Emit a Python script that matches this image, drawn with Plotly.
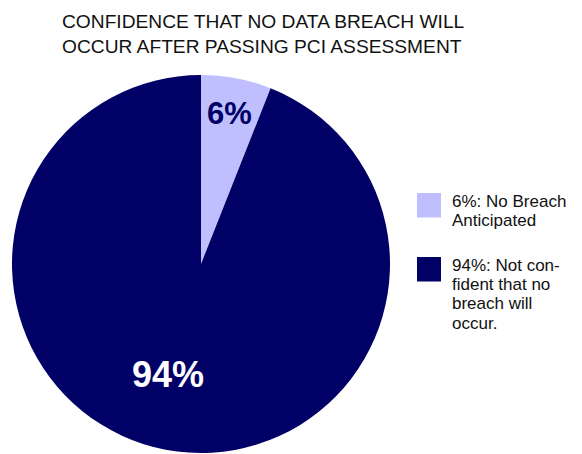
import math
import plotly.graph_objects as go

# ---- data ----
labels = ["6%: No Breach Anticipated", "94%: Not confident that no breach will occur."]
values = [6, 94]
slice_text = ["6%", "94%"]
legend_lines = [["6%: No Breach", "Anticipated"],
                ["94%: Not con-", "fident that no", "breach will", "occur."]]
title_lines = ["CONFIDENCE THAT NO DATA BREACH WILL",
               "OCCUR AFTER PASSING PCI ASSESSMENT"]
colors = ["#BFBFFF", "#000066"]
text_colors = ["#000066", "#FFFFFF"]

# ---- geometry helpers (pixel -> paper) ----
W, H = 582, 454
ML, MR, MT, MB = 12, 0, 75, 1
PW, PH = W - ML - MR, H - MT - MB


def px(x):
    return (x - ML) / PW


def py(y):
    return (H - MB - y) / PH


R = PH / 2.0
CX, CY = ML + R, MT + R

fig = go.Figure(go.Pie(
    labels=labels, values=values, sort=False, direction="clockwise", rotation=0,
    marker=dict(colors=colors, line=dict(width=0)),
    textinfo="none", hoverinfo="label+percent", showlegend=False,
    domain=dict(x=[0, 2 * R / PW], y=[0, 1]),
))

annotations = []
shapes = []

# slice labels
total = sum(values)
cum = 0
fracs = [0.81, 0.61]
angle_shift = [0, 6]
sizes = [31, 36]
for v, t, tc, f, s, da in zip(values, slice_text, text_colors, fracs, sizes, angle_shift):
    theta = math.radians(360.0 * (cum + v / 2.0) / total + da)
    cum += v
    x = CX + R * f * math.sin(theta)
    y = CY - R * f * math.cos(theta)
    annotations.append(dict(x=px(x), y=py(y), xref="paper", yref="paper",
                            text="<b>%s</b>" % t, showarrow=False,
                            xanchor="center", yanchor="middle",
                            font=dict(size=s, color=tc, family="Liberation Sans, Arial")))

# title (single text, two lines)
annotations.append(dict(x=px(60), y=py(9), xref="paper", yref="paper",
                        text="<br>".join(title_lines), showarrow=False,
                        xanchor="left", yanchor="top", align="left",
                        font=dict(size=19.2, color="#111111",
                                  family="Liberation Sans, Arial")))

# legend: line spacing set by base font, glyph size by span
top = 193.0
LINE = 19.2
GLYPH = 17
for lines, c in zip(legend_lines, colors):
    shapes.append(dict(type="rect", xref="paper", yref="paper",
                       x0=px(417), x1=px(441), y0=py(top), y1=py(top + 24.5),
                       fillcolor=c, line=dict(width=0)))
    txt = "<br>".join("<span style='font-size:%dpx'>%s</span>" % (GLYPH, ln) for ln in lines)
    annotations.append(dict(x=px(450), y=py(top - 3), xref="paper", yref="paper",
                            text=txt, showarrow=False, xanchor="left", yanchor="top",
                            align="left",
                            font=dict(size=LINE / 1.3, color="#111111",
                                      family="Liberation Sans, Arial")))
    top += 16.0 * len(lines) + 32

fig.update_layout(
    width=W, height=H, margin=dict(l=ML, r=MR, t=MT, b=MB),
    paper_bgcolor="white", plot_bgcolor="white",
    annotations=annotations, shapes=shapes, showlegend=False,
)

fig.write_html("out.html")
